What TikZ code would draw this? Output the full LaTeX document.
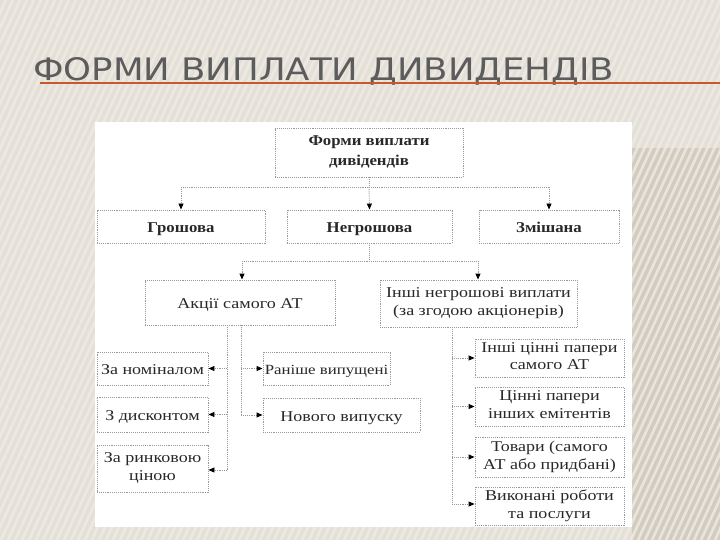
\documentclass[tikz,border=0pt]{standalone}
\usepackage{fontspec}
\setmainfont{Liberation Serif}[FakeStretch=1.2]
\newfontfamily\boldf{Liberation Serif}[FakeStretch=1.12]
\newfontfamily\titlefont{DejaVu Sans}
\usetikzlibrary{arrows.meta}
\definecolor{bgc}{RGB}{228,224,215}
\definecolor{stripec}{RGB}{239,236,229}
\definecolor{bandc}{RGB}{210,204,192}
\definecolor{titlec}{RGB}{92,92,92}
\definecolor{linec}{RGB}{196,90,48}
\definecolor{inkc}{RGB}{40,40,40}
\newcommand\tstrut{\rule{0pt}{16pt}}
\newcommand\bstrut{\rule[-3.5pt]{0pt}{3.5pt}}
\tikzset{
  box/.style={draw=gray!80, densely dotted, line width=0.9pt, fill=white, align=center,
    inner sep=0pt, text=inkc, font=\fontsize{15}{17.5}\selectfont,
    execute at begin node=\tstrut, execute at end node=\bstrut},
  boldbox/.style={box, font=\boldf\fontsize{15}{20}\selectfont\bfseries},
  conn/.style={draw=gray!80, densely dotted, line width=0.9pt},
  arr/.style={conn, -{Triangle[length=6pt,width=5pt,color=black]}}
}
\begin{document}
\begin{tikzpicture}[x=1pt,y=-1pt]
\useasboundingbox (0,0) rectangle (720,540);
\fill[bgc] (0,0) rectangle (720,540);
\fill[bandc] (632,148) rectangle (720,540);
\begin{scope}
\clip (0,0) rectangle (720,540);
\foreach \i in {-300,-293,...,720} {
  \draw[stripec, line width=2.6pt, opacity=0.8] (\i,540) -- (\i+250,0);
}
\end{scope}
% title
\node[anchor=base west, inner sep=0pt, text=titlec] (title) at (33,81)
  {\resizebox{581pt}{23pt}{\titlefont ФОРМИ ВИПЛАТИ ДИВИДЕНДІВ}};
\draw[linec, line width=2pt] (40,83.5) -- (720,83.5);
% white panel
\fill[white] (95,122) rectangle (632,527);

% nodes
\node[boldbox, minimum width=188pt, minimum height=49pt] (T) at (369,152.5) {Форми виплати\\дивідендів};
\node[boldbox, minimum width=168pt, minimum height=33pt] (G) at (181,226.5) {Грошова};
\node[boldbox, minimum width=165pt, minimum height=33pt] (N) at (369.5,226.5) {Негрошова};
\node[boldbox, minimum width=140pt, minimum height=33pt] (Z) at (549,226.5) {Змішана};

\node[box, minimum width=190pt, minimum height=45pt] (A) at (240,302.5) {Акції самого АТ};
\node[box, minimum width=197pt, minimum height=47pt] (I) at (478.5,303.5) {Інші негрошові виплати\\(за згодою акціонерів)};

\node[box, minimum width=111pt, minimum height=33pt] (L1) at (152.5,368.5) {За номіналом};
\node[box, minimum width=111pt, minimum height=35pt] (L2) at (152.5,414.5) {З дисконтом};
\node[box, minimum width=111pt, minimum height=47pt] (L3) at (152.5,468.5) {За ринковою\\ціною};

\node[box, font=\fontsize{14}{17}\selectfont, minimum width=127pt, minimum height=33pt] (R1) at (326.5,368.5) {Раніше випущені};
\node[box, minimum width=157pt, minimum height=34pt] (R2) at (341.5,415) {Нового випуску};

\node[box, minimum width=149pt, minimum height=38pt] (P1) at (549.5,358) {Інші цінні папери\\самого АТ};
\node[box, minimum width=149pt, minimum height=39pt] (P2) at (549.5,406.5) {Цінні папери\\інших емітентів};
\node[box, minimum width=149pt, minimum height=40pt] (P3) at (549.5,457) {Товари (самого\\АТ або придбані)};
\node[box, minimum width=149pt, minimum height=38pt] (P4) at (549.5,506) {Виконані роботи\\та послуги};

% level 1 connectors
\coordinate (b1) at (369,187);
\draw[conn] (T.south) -- (b1);
\draw[conn] (b1 -| G.north) -- (b1 -| Z.north);
\draw[arr] (b1 -| G.north) -- (G.north);
\draw[arr] (b1) -- (N.north);
\draw[arr] (b1 -| Z.north) -- (Z.north);

% level 2 connectors
\coordinate (b2) at (369.5,261);
\coordinate (a2) at (242,261);
\coordinate (i2) at (478,261);
\draw[conn] (N.south) -- (b2);
\draw[conn] (a2) -- (i2);
\draw[arr] (a2) -- (a2 |- A.north);
\draw[arr] (i2) -- (i2 |- I.north);

% left branch
\coordinate (lt) at (227,325);
\coordinate (lb) at (227,470);
\coordinate (rt) at (241,325);
\coordinate (rb) at (241,415);
\draw[conn] (lt) -- (lb);
\draw[conn] (rt) -- (rb);
\draw[arr] (lt |- L1.east) -- (L1.east);
\draw[arr] (lt |- L2.east) -- (L2.east);
\draw[arr] (lb) -- (lb -| L3.east);
\draw[arr] (rt |- R1.west) -- (R1.west);
\draw[arr] (rb) -- (rb -| R2.west);

% right branch
\coordinate (pt) at (452,327);
\coordinate (pb) at (452,504);
\draw[conn] (pt) -- (pb);
\draw[arr] (pt |- P1.west) -- (P1.west);
\draw[arr] (pt |- P2.west) -- (P2.west);
\draw[arr] (pt |- P3.west) -- (P3.west);
\draw[arr] (pb) -- (pb -| P4.west);
\end{tikzpicture}
\end{document}
